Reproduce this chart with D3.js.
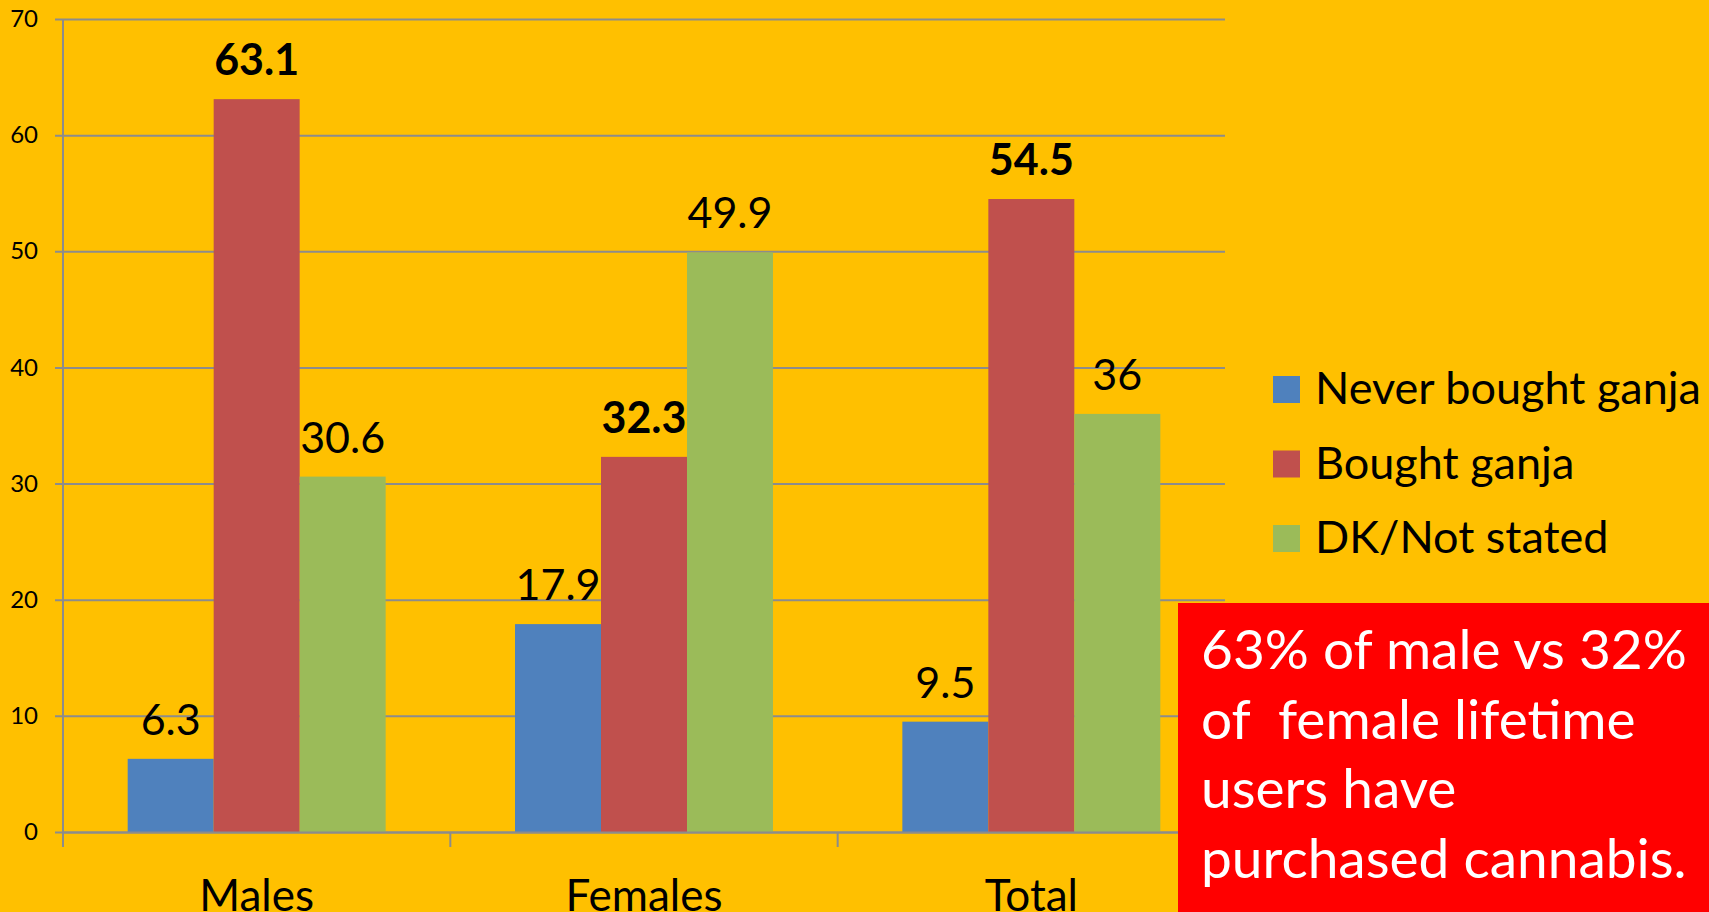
<!DOCTYPE html>
<html>
<head>
<meta charset="utf-8">
<script src="https://cdn.jsdelivr.net/npm/d3@7"></script>
<style>
  body { margin: 0; background: #FFC000; overflow: hidden; }
  text { font-family: Lato, "Open Sans", sans-serif; }
</style>
</head>
<body>
<div id="chart-container"></div>
<script>
// Chart data
const categories = ["Males", "Females", "Total"];
const seriesNames = ["Never bought ganja", "Bought ganja", "DK/Not stated"];
const neverBought = [6.3, 17.9, 9.5];
const bought = [63.1, 32.3, 54.5];
const notStated = [30.6, 49.9, 36];
const yTicks = [0, 10, 20, 30, 40, 50, 60, 70];
const noteLines = ["63% of male vs 32%", "of  female lifetime", "users have", "purchased cannabis."];

const colors = ["#4F81BD", "#C0504D", "#9BBB59"];
const seriesValues = [neverBought, bought, notStated];

const W = 1709, H = 912;
const margin = { top: 19, right: 484, bottom: 80, left: 63 };
const width = W - margin.left - margin.right;
const height = H - margin.top - margin.bottom;

const svg = d3.select("#chart-container")
  .append("svg")
  .attr("width", W)
  .attr("height", H);

svg.append("rect").attr("width", W).attr("height", H).attr("fill", "#FFC000");

const g = svg.append("g")
  .attr("transform", `translate(${margin.left},${margin.top})`);

// Scales
const x0 = d3.scaleBand().domain(categories).range([0, width]);
const groupPad = x0.bandwidth() * 0.167;
const x1 = d3.scaleBand().domain(d3.range(seriesNames.length))
  .range([groupPad, x0.bandwidth() - groupPad]);
const y = d3.scaleLinear().domain([0, 70]).range([height, 0]);

// Gridlines + Y axis
const yAxis = g.append("g")
  .call(d3.axisLeft(y).tickValues(yTicks).tickSize(-width).tickPadding(14));
yAxis.select(".domain").remove();
yAxis.selectAll(".tick line")
  .attr("stroke", "#8c8c8c").attr("stroke-width", 2)
  .attr("x1", -8);
yAxis.selectAll(".tick text")
  .attr("x", -25)
  .style("font-size", "24px").attr("fill", "#000");

// Bars
const rows = categories.map((c, i) => ({ cat: c, vals: seriesValues.map(s => s[i]) }));
const groups = g.selectAll(".grp").data(rows).enter().append("g")
  .attr("transform", d => `translate(${x0(d.cat)},0)`);

groups.selectAll("rect")
  .data(d => d.vals.map((v, k) => ({ v, k })))
  .enter().append("rect")
  .attr("x", d => x1(d.k))
  .attr("width", x1.bandwidth())
  .attr("y", d => y(d.v))
  .attr("height", d => height - y(d.v))
  .attr("fill", d => colors[d.k]);

groups.selectAll(".lbl")
  .data(d => d.vals.map((v, k) => ({ v, k })))
  .enter().append("text")
  .attr("x", d => x1(d.k) + x1.bandwidth() / 2)
  .attr("y", d => y(d.v) - 24)
  .attr("text-anchor", "middle")
  .style("font-size", "43px")
  .style("font-weight", d => d.k === 1 ? "bold" : "normal")
  .attr("fill", "#000")
  .text(d => d.v);

// X axis
const xAxis = g.append("g")
  .attr("transform", `translate(0,${height})`)
  .call(d3.axisBottom(x0).tickSize(0).tickPadding(48));
xAxis.select(".domain").attr("stroke", "#8c8c8c").attr("stroke-width", 2);
xAxis.selectAll(".tick text").style("font-size", "44px").attr("fill", "#000");
xAxis.selectAll(".sep")
  .data(d3.range(categories.length + 1))
  .enter().append("line")
  .attr("x1", i => i * x0.bandwidth()).attr("x2", i => i * x0.bandwidth())
  .attr("y1", 0).attr("y2", 15)
  .attr("stroke", "#8c8c8c").attr("stroke-width", 2);
g.append("line")
  .attr("x1", 0).attr("x2", 0).attr("y1", 0).attr("y2", height)
  .attr("stroke", "#8c8c8c").attr("stroke-width", 2);

// Legend
const legend = svg.append("g").attr("transform", "translate(1273,376)");
seriesNames.forEach((name, i) => {
  const row = legend.append("g").attr("transform", `translate(0,${i * 74.5})`);
  row.append("rect").attr("width", 27).attr("height", 27).attr("fill", colors[i]);
  row.append("text").attr("x", 42).attr("y", 28)
    .style("font-size", "45px").attr("fill", "#000").text(name);
});

// Red note box
svg.append("rect")
  .attr("x", 1178).attr("y", 603).attr("width", W - 1178).attr("height", H - 603)
  .attr("fill", "#FF0000");
svg.append("g").selectAll("text")
  .data(noteLines).enter().append("text")
  .attr("x", 1201)
  .attr("y", (d, i) => 669 + i * 69.7)
  .style("font-size", "55px")
  .style("white-space", "pre")
  .attr("xml:space", "preserve")
  .attr("fill", "#fff")
  .text(d => d);
</script>
</body>
</html>
